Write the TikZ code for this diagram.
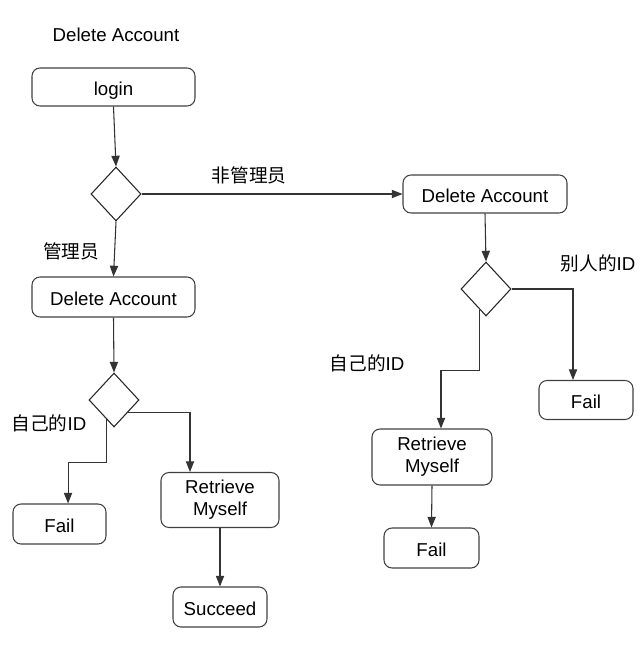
\documentclass[tikz,border=0pt]{standalone}
\usepackage{fontspec}
\setmainfont{Liberation Sans}
\newfontfamily\cjk{Noto Sans CJK SC}
\usetikzlibrary{shapes.geometric,arrows.meta,calc}
\begin{document}
\begin{tikzpicture}[x=0.75pt,y=-0.75pt,
  box/.style={draw=black!75,line width=0.8pt,rounded corners=6pt,align=center,inner sep=0pt,font=\fontsize{14}{16.5}\selectfont},
  onebox/.style={box,text height=12.5pt,text depth=0pt},
  dia/.style={draw=black!85,line width=0.8pt,diamond,inner sep=0pt,minimum width=37.5pt,minimum height=40.5pt},
  arr/.style={draw=black!80,line width=0.8pt,-{Triangle[length=8pt,width=6.2pt]}},
  lbl/.style={font=\fontsize{14}{16.5}\selectfont,inner sep=0pt}]
\useasboundingbox (0,0) rectangle (641,646);
% title
\node[lbl] (title) at (116,35) {Delete Account};
% boxes
\node[onebox,minimum width=122.25pt,minimum height=28.5pt] (login) at (113.5,87) {login};
\node[onebox,minimum width=123pt,minimum height=28.5pt] (dar) at (485,194) {Delete Account};
\node[onebox,minimum width=122.25pt,minimum height=30pt] (dal) at (113.5,297) {Delete Account};
\node[onebox,minimum width=70.5pt,minimum height=29.25pt] (failr) at (586,400) {Fail};
\node[box,minimum width=90pt,minimum height=42pt] (retr) at (432,457) {Retrieve\\Myself};
\node[onebox,minimum width=71.25pt,minimum height=30pt] (failr2) at (431.5,548) {Fail};
\node[onebox,minimum width=69.75pt,minimum height=30pt] (faill) at (59.5,524) {Fail};
\node[box,minimum width=88.5pt,minimum height=41.25pt] (retl) at (220,500) {Retrieve\\Myself};
\node[onebox,minimum width=70.5pt,minimum height=30pt] (succ) at (220,607) {Succeed};
% diamonds
\node[dia] (d1) at (116,194) {};
\node[dia] (d2) at (486,289) {};
\node[dia] (d3) at (114,400) {};
% labels
\node[lbl] (l1) at (249,175) {\cjk 非管理员};
\node[lbl] (l2) at (71,251) {\cjk 管理员};
\node[lbl] (l3) at (598,263) {{\cjk 别人的}ID};
\node[lbl] (l4) at (367,363) {{\cjk 自己的}ID};
\node[lbl] (l5) at (49,423) {{\cjk 自己的}ID};
% connectors
\draw[arr] (login.south) -- (d1.north);
\draw[arr] (d1.south) -- (dal.north);
\draw[arr] (d1.east) -- (dar.west);
\draw[arr] (dar.south) -- (d2.north);
\draw[arr] (d2.east) -| ([xshift=-9.75pt]failr.north);
\draw[arr] ($(d2.south)!0.25!(d2.west)$) -- ++(0,61) -| ([xshift=6.75pt]retr.north);
\draw[arr] (retr.south) -- (failr2.north);
\draw[arr] (dal.south) -- (d3.north);
\draw[arr] ($(d3.south)!0.3!(d3.west)$) -- ++(0,43) -| ([xshift=6.4pt]faill.north);
\draw[arr] ($(d3.south)!0.55!(d3.east)$) -| ([xshift=-22.5pt]retl.north);
\draw[arr] (retl.south) -- (succ.north);
\end{tikzpicture}
\end{document}
